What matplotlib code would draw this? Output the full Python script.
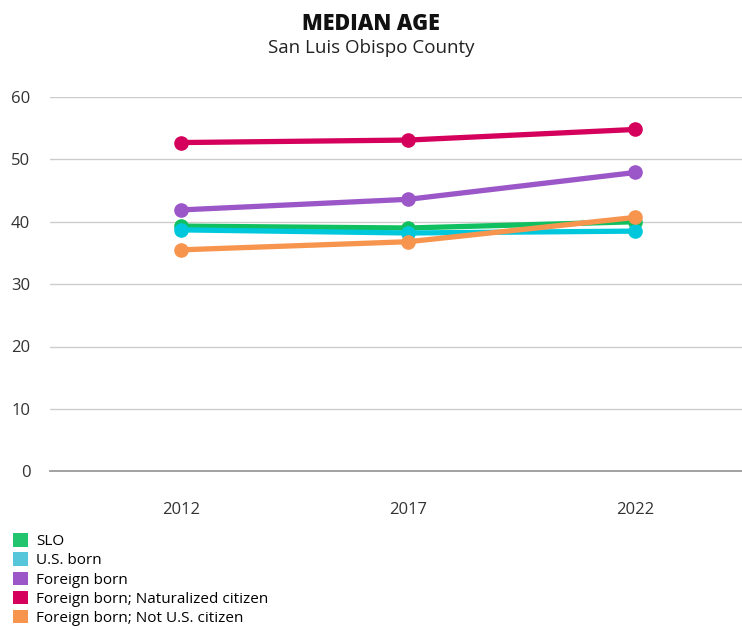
import matplotlib.pyplot as plt
from matplotlib.patches import Patch

years = ["2012", "2017", "2022"]
series_names = ["SLO", "U.S. born", "Foreign born",
                "Foreign born; Naturalized citizen", "Foreign born; Not U.S. citizen"]
slo = [39.3, 39.0, 40.0]
us_born = [38.7, 38.2, 38.5]
foreign_born = [41.9, 43.6, 47.9]
naturalized = [52.7, 53.1, 54.8]
not_citizen = [35.5, 36.8, 40.7]

line_colors = ["#10c060", "#00c8dc", "#9b57c8", "#d4005c", "#f7954f"]
legend_colors = ["#22c46e", "#56c6da", "#9b57c8", "#d4005c", "#f7954f"]

plt.rcParams['font.family'] = ['Open Sans', 'DejaVu Sans']

fig = plt.figure(figsize=(7.42, 6.3), dpi=100)
ax = fig.add_axes([0.067, 0.252, 0.933, 0.594])

x = list(range(len(years)))
for vals, col in zip([slo, us_born, foreign_born, naturalized, not_citizen], line_colors):
    ax.plot(x, vals, color=col, linewidth=3.8, marker="o", markersize=9.5,
            solid_capstyle="round", clip_on=False, zorder=3)

ax.set_ylim(0, 60)
ax.set_yticks(range(0, 61, 10))
ax.set_xlim(-0.58, 2.47)
ax.set_xticks(x)
ax.set_xticklabels(years)
ax.grid(axis="y", color="#cccccc", linewidth=1)
ax.axhline(0, color="#9a9a9a", linewidth=1.3, clip_on=False, zorder=2)
ax.set_axisbelow(True)
for s in ax.spines.values():
    s.set_visible(False)
ax.tick_params(axis="both", length=0, labelsize=12, colors="#333333")
ax.tick_params(axis="y", pad=14)
ax.tick_params(axis="x", pad=22)

fig.text(0.5, 0.962, "MEDIAN AGE", ha="center", va="center",
         fontsize=15.5, fontweight="heavy", color="#111111")
fig.text(0.5, 0.924, "San Luis Obispo County", ha="center", va="center",
         fontsize=13.5, color="#222222")

handles = [Patch(facecolor=c, edgecolor="none") for c in legend_colors]
fig.legend(handles, series_names, loc="lower left", bbox_to_anchor=(0.005, -0.008),
           frameon=False, fontsize=11, handlelength=1.0, handleheight=1.0,
           handletextpad=0.5, labelspacing=0.2, borderaxespad=0.2)

fig.savefig("out.png", dpi=100)
